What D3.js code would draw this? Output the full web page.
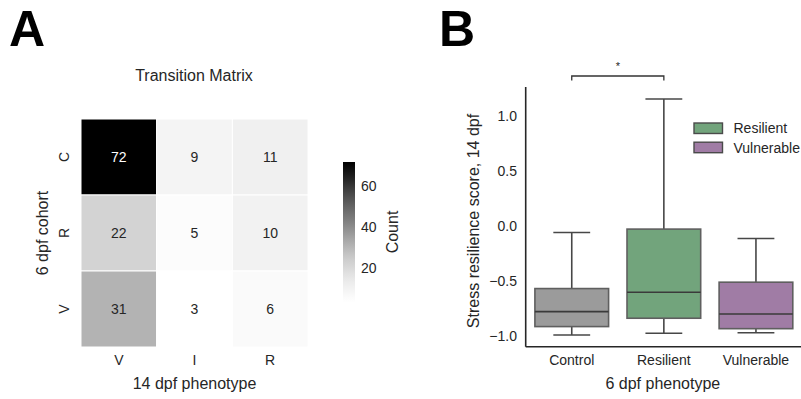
<!DOCTYPE html>
<html>
<head>
<meta charset="utf-8">
<script src="https://cdn.jsdelivr.net/npm/d3@7"></script>
<style>
  html, body { margin: 0; padding: 0; background: #fff; }
  svg { display: block; font-family: "Liberation Sans", Arial, Helvetica, sans-serif; }
</style>
</head>
<body>
<svg id="fig" width="801" height="399"></svg>
<script>
// ---- Panel A: transition matrix (6 dpf cohort x 14 dpf phenotype) ----
const rowLabels = ["C", "R", "V"];
const colLabels = ["V", "I", "R"];
const counts = [
  [72, 9, 11],
  [22, 5, 10],
  [31, 3, 6]
];
const cbarTicks = [20, 40, 60];

// ---- Panel B: stress resilience score boxplots ----
const groups = ["Control", "Resilient", "Vulnerable"];
const whiskerLow = [-0.99, -0.975, -0.97];
const q1 = [-0.914, -0.838, -0.933];
const median = [-0.778, -0.601, -0.799];
const q3 = [-0.568, -0.027, -0.510];
const whiskerHigh = [-0.058, 1.157, -0.113];
const boxColors = ["#9b9b9b", "#72a47c", "#a07ca5"];
const yTicks = [-1.0, -0.5, 0.0, 0.5, 1.0];
const legendItems = ["Resilient", "Vulnerable"];

const svg = d3.select("#fig");
const textCol = "#262626";

// Panel letters
svg.append("text").attr("x", 9).attr("y", 46)
  .attr("font-size", 50).attr("font-weight", "bold").attr("fill", "#000").text("A");
svg.append("text").attr("x", 439).attr("y", 46)
  .attr("font-size", 50).attr("font-weight", "bold").attr("fill", "#000").text("B");

// ===== Heatmap =====
const hm = { left: 81, top: 119, right: 308, bottom: 347 };
const xHm = d3.scaleBand().domain(colLabels.map((d, i) => i)).range([hm.left, hm.right]);
const yHm = d3.scaleBand().domain(rowLabels.map((d, i) => i)).range([hm.top, hm.bottom]);
const allCounts = counts.flat();
const color = d3.scaleSequential(d3.interpolateGreys)
  .domain([d3.min(allCounts), d3.max(allCounts)]);

const cells = [];
counts.forEach((row, r) => row.forEach((v, c) => cells.push({ r, c, v })));

const gA = svg.append("g");
gA.selectAll("rect.cell").data(cells).enter().append("rect")
  .attr("class", "cell")
  .attr("x", d => xHm(d.c)).attr("y", d => yHm(d.r))
  .attr("width", xHm.bandwidth()).attr("height", yHm.bandwidth())
  .attr("fill", d => color(d.v))
  .attr("stroke", "#fff").attr("stroke-width", 1);

gA.selectAll("text.val").data(cells).enter().append("text")
  .attr("class", "val")
  .attr("x", d => xHm(d.c) + xHm.bandwidth() / 2)
  .attr("y", d => yHm(d.r) + yHm.bandwidth() / 2)
  .attr("dy", "0.35em").attr("text-anchor", "middle")
  .attr("font-size", 14)
  .attr("fill", d => (d.v - d3.min(allCounts)) / (d3.max(allCounts) - d3.min(allCounts)) > 0.6 ? "#fff" : textCol)
  .text(d => d.v);

// column tick labels
gA.selectAll("text.col").data(colLabels).enter().append("text")
  .attr("class", "col")
  .attr("x", (d, i) => xHm(i) + xHm.bandwidth() / 2)
  .attr("y", 360).attr("dy", "0.35em").attr("text-anchor", "middle")
  .attr("font-size", 14).attr("fill", textCol).text(d => d);

// row tick labels (rotated)
gA.selectAll("text.row").data(rowLabels).enter().append("text")
  .attr("class", "row")
  .attr("transform", (d, i) => `translate(64,${yHm(i) + yHm.bandwidth() / 2}) rotate(-90)`)
  .attr("dy", "0.35em").attr("text-anchor", "middle")
  .attr("font-size", 14).attr("fill", textCol).text(d => d);

gA.append("text").attr("x", (hm.left + hm.right) / 2).attr("y", 383)
  .attr("dy", "0.35em").attr("text-anchor", "middle")
  .attr("font-size", 16).attr("fill", textCol).text("14 dpf phenotype");
gA.append("text").attr("transform", `translate(42,${(hm.top + hm.bottom) / 2}) rotate(-90)`)
  .attr("dy", "0.35em").attr("text-anchor", "middle")
  .attr("font-size", 16).attr("fill", textCol).text("6 dpf cohort");
gA.append("text").attr("x", 194).attr("y", 75)
  .attr("dy", "0.35em").attr("text-anchor", "middle")
  .attr("font-size", 16).attr("fill", textCol).text("Transition Matrix");

// colorbar
const cb = { x: 343, w: 12, top: 162, bottom: 302.5 };
const cbScale = d3.scaleLinear().domain(color.domain()).range([cb.bottom, cb.top]);
const defs = svg.append("defs");
const grad = defs.append("linearGradient").attr("id", "cbgrad")
  .attr("x1", 0).attr("y1", 1).attr("x2", 0).attr("y2", 0);
d3.range(0, 1.0001, 0.05).forEach(t => {
  grad.append("stop").attr("offset", t)
    .attr("stop-color", color(color.domain()[0] + t * (color.domain()[1] - color.domain()[0])));
});
gA.append("rect").attr("x", cb.x).attr("y", cb.top)
  .attr("width", cb.w).attr("height", cb.bottom - cb.top)
  .attr("fill", "url(#cbgrad)");
gA.selectAll("text.cbt").data(cbarTicks).enter().append("text")
  .attr("class", "cbt")
  .attr("x", cb.x + cb.w + 6).attr("y", d => cbScale(d))
  .attr("dy", "0.35em").attr("font-size", 14).attr("fill", textCol).text(d => d);
gA.append("text").attr("transform", `translate(392,232) rotate(-90)`)
  .attr("dy", "0.35em").attr("text-anchor", "middle")
  .attr("font-size", 16).attr("fill", textCol).text("Count");

// ===== Boxplot =====
const bp = { left: 525.7, right: 802, top: 87, bottom: 346.7 };
const xB = d3.scaleBand().domain(groups).range([bp.left, bp.right]).paddingInner(0).paddingOuter(0);
const yB = d3.scaleLinear().domain([-1.097, 1.266]).range([bp.bottom, bp.top]);
const gB = svg.append("g");
const boxW = xB.bandwidth() * 0.8;
const lineCol = "#474747";

groups.forEach((g, i) => {
  const cx = xB(g) + xB.bandwidth() / 2;
  const grp = gB.append("g");
  // whiskers
  grp.append("line").attr("x1", cx).attr("x2", cx)
    .attr("y1", yB(q3[i])).attr("y2", yB(whiskerHigh[i]))
    .attr("stroke", lineCol).attr("stroke-width", 1.6);
  grp.append("line").attr("x1", cx).attr("x2", cx)
    .attr("y1", yB(q1[i])).attr("y2", yB(whiskerLow[i]))
    .attr("stroke", lineCol).attr("stroke-width", 1.6);
  [whiskerHigh[i], whiskerLow[i]].forEach(v => {
    grp.append("line").attr("x1", cx - boxW / 4).attr("x2", cx + boxW / 4)
      .attr("y1", yB(v)).attr("y2", yB(v))
      .attr("stroke", lineCol).attr("stroke-width", 1.6);
  });
  // box
  grp.append("rect").attr("x", cx - boxW / 2).attr("y", yB(q3[i]))
    .attr("width", boxW).attr("height", yB(q1[i]) - yB(q3[i]))
    .attr("fill", boxColors[i]).attr("stroke", "#5f5f5f").attr("stroke-width", 1.6);
  // median
  grp.append("line").attr("x1", cx - boxW / 2).attr("x2", cx + boxW / 2)
    .attr("y1", yB(median[i])).attr("y2", yB(median[i]))
    .attr("stroke", "#3a3a3a").attr("stroke-width", 1.6);
});

// axes spines
gB.append("line").attr("x1", bp.left).attr("x2", bp.left)
  .attr("y1", bp.top).attr("y2", bp.bottom).attr("stroke", textCol).attr("stroke-width", 1.6);
gB.append("line").attr("x1", bp.left).attr("x2", bp.right)
  .attr("y1", bp.bottom).attr("y2", bp.bottom).attr("stroke", textCol).attr("stroke-width", 1.6);

// y tick labels
gB.selectAll("text.yt").data(yTicks).enter().append("text")
  .attr("class", "yt")
  .attr("x", 517).attr("y", d => yB(d))
  .attr("dy", "0.35em").attr("text-anchor", "end")
  .attr("font-size", 14).attr("fill", textCol)
  .text(d => d3.format(".1f")(d).replace("-", "\u2212"));

// x tick labels
gB.selectAll("text.xt").data(groups).enter().append("text")
  .attr("class", "xt")
  .attr("x", d => xB(d) + xB.bandwidth() / 2).attr("y", 360.5)
  .attr("dy", "0.35em").attr("text-anchor", "middle")
  .attr("font-size", 14).attr("fill", textCol).text(d => d);

gB.append("text").attr("x", xB("Resilient") + xB.bandwidth() / 2 - 1).attr("y", 383)
  .attr("dy", "0.35em").attr("text-anchor", "middle")
  .attr("font-size", 16).attr("fill", textCol).text("6 dpf phenotype");
gB.append("text").attr("transform", `translate(473,221) rotate(-90)`)
  .attr("dy", "0.35em").attr("text-anchor", "middle")
  .attr("font-size", 16).attr("fill", textCol).text("Stress resilience score, 14 dpf");

// significance bracket Control vs Resilient
const bx1 = xB("Control") + xB.bandwidth() / 2;
const bx2 = xB("Resilient") + xB.bandwidth() / 2;
gB.append("path")
  .attr("d", `M${bx1},80.5 L${bx1},76 L${bx2},76 L${bx2},80.5`)
  .attr("fill", "none").attr("stroke", "#333").attr("stroke-width", 1.3);
gB.append("text").attr("x", (bx1 + bx2) / 2).attr("y", 70)
  .attr("text-anchor", "middle").attr("font-size", 11).attr("fill", textCol).text("*");

// legend
const lg = gB.append("g").attr("transform", "translate(694,123)");
legendItems.forEach((name, i) => {
  const ci = groups.indexOf(name);
  lg.append("rect").attr("x", 0).attr("y", i * 19.2)
    .attr("width", 28.5).attr("height", 10.5)
    .attr("fill", boxColors[ci]).attr("stroke", "#4a4a4a").attr("stroke-width", 1.4);
  lg.append("text").attr("x", 39.5).attr("y", i * 19.2 + 5.5)
    .attr("dy", "0.35em").attr("font-size", 14).attr("fill", textCol).text(name);
});
</script>
</body>
</html>
